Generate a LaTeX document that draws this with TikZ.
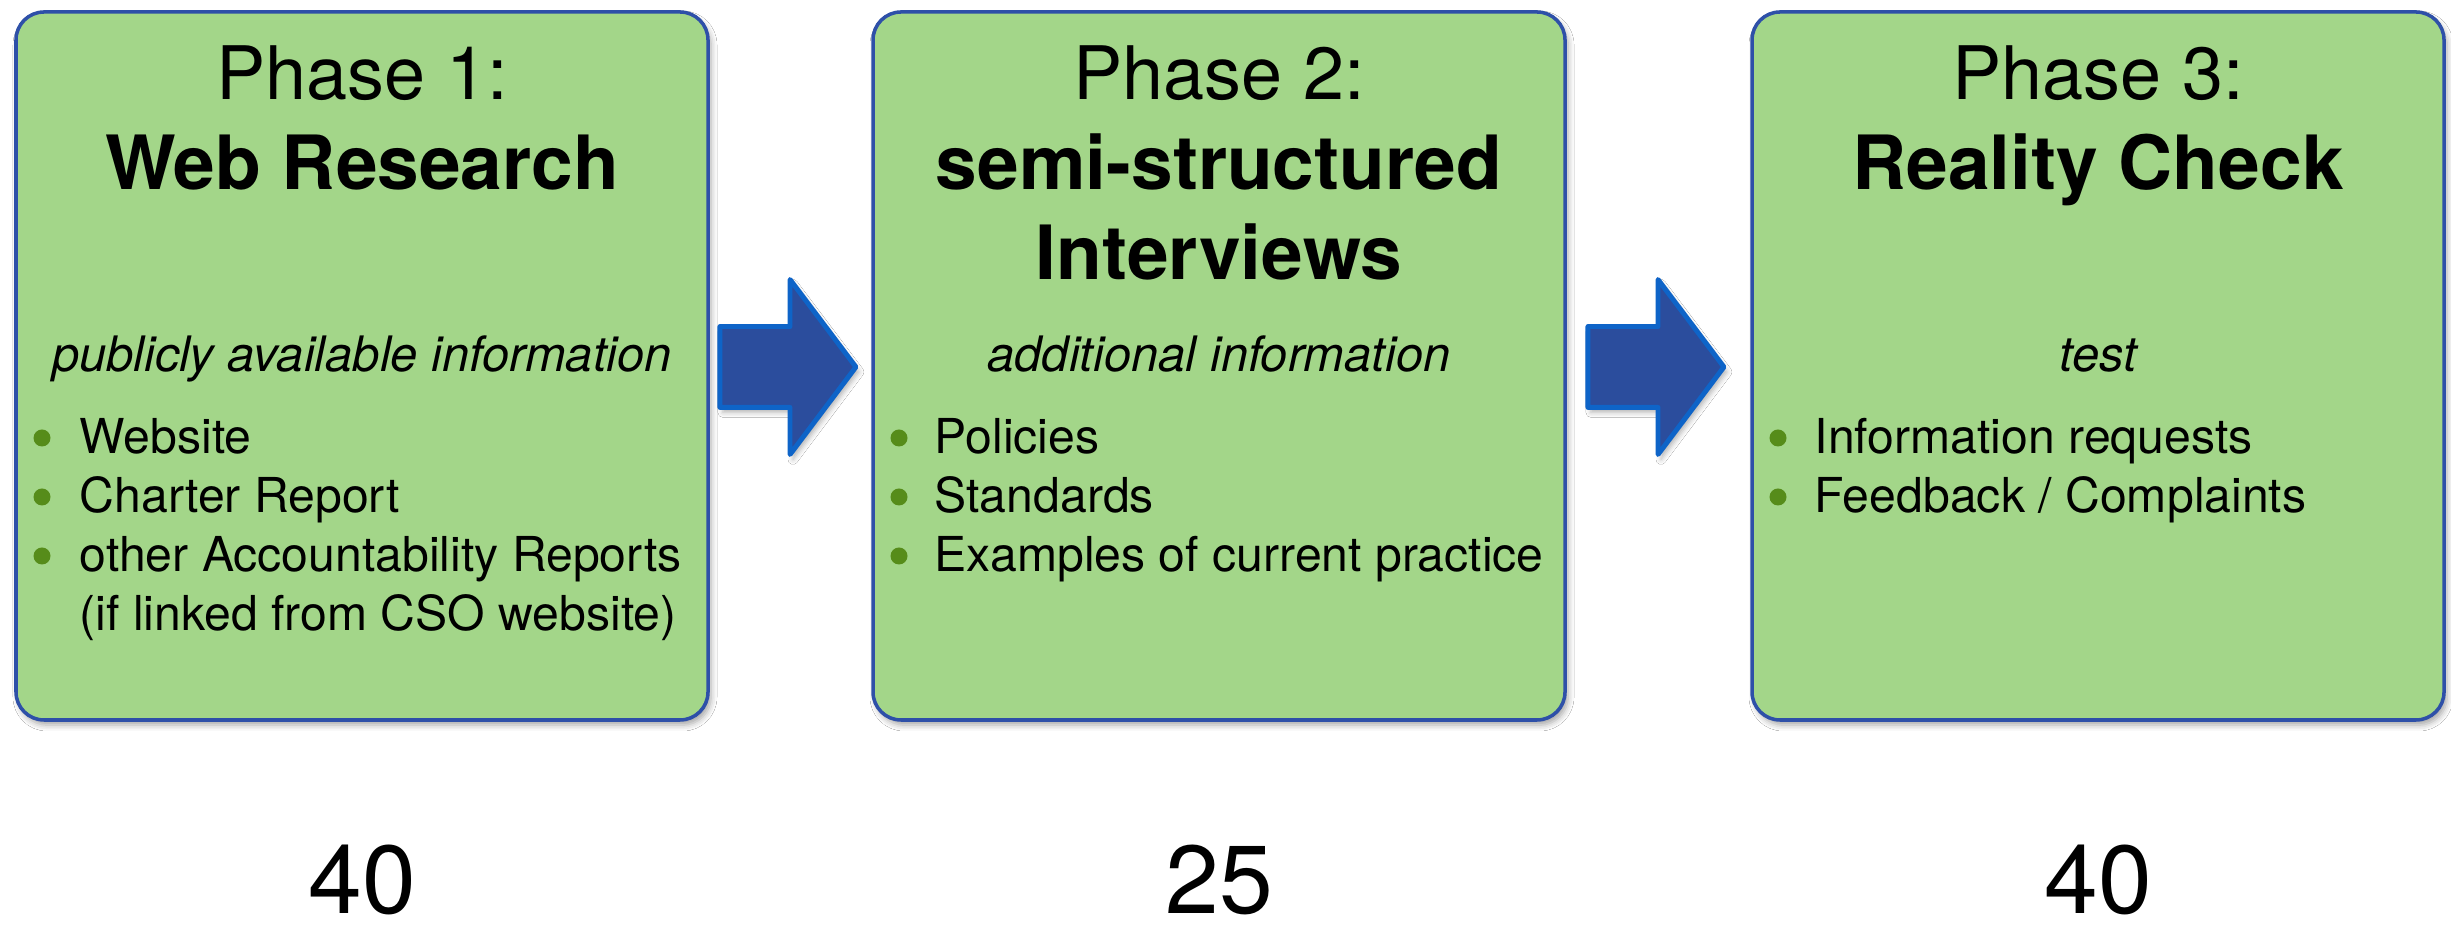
\documentclass[tikz,border=0pt]{standalone}
\usepackage{fontspec}
\setmainfont{TeX Gyre Heros}
\usetikzlibrary{shapes.arrows}
\usetikzlibrary{shadows.blur}

\definecolor{phasegreen}{RGB}{163,214,137}
\definecolor{phaseblue}{RGB}{46,80,168}
\definecolor{arrowfill}{RGB}{43,77,157}
\definecolor{arrowline}{RGB}{14,100,200}
\definecolor{dotgreen}{RGB}{86,140,26}

\tikzset{
  phasebox/.style={rectangle,rounded corners=0.28cm,draw=phaseblue,line width=1pt,fill=phasegreen,
    minimum width=6.92cm,minimum height=7.08cm,inner sep=0pt,
    blur shadow={shadow xshift=0.03cm,shadow yshift=-0.05cm,shadow blur radius=0.06cm,shadow opacity=35}},
  phasehead/.style={anchor=base,inner sep=0pt,font=\fontsize{21}{25}\selectfont},
  phasename/.style={anchor=base,inner sep=0pt,font=\fontsize{21.3}{25}\selectfont\bfseries},
  phasenote/.style={anchor=base,inner sep=0pt,font=\fontsize{13.9}{16}\selectfont\itshape},
  phaseitem/.style={anchor=base west,inner sep=0pt,font=\fontsize{13.7}{16}\selectfont},
  phasedot/.style={circle,fill=dotgreen,inner sep=0pt,minimum size=0.17cm},
  phasecount/.style={anchor=base,inner sep=0pt,font=\fontsize{27.5}{33}\selectfont},
  phasearrow/.style={single arrow,draw=arrowline,fill=arrowfill,line width=1.4pt,line join=round,
    inner xsep=0pt,inner ysep=0.38cm,minimum height=1.36cm,anchor=tip,
    single arrow head extend=0.47cm,single arrow tip angle=106,single arrow head indent=0cm,
    blur shadow={shadow xshift=0.03cm,shadow yshift=-0.05cm,shadow blur radius=0.05cm,shadow opacity=30}}
}

\begin{document}
\begin{tikzpicture}
\useasboundingbox[fill=white] (0,0) rectangle (24.51,9.27);

% the three phase boxes
\node[phasebox] (p1) at (3.62,5.61) {};
\node[phasebox] (p2) at (12.19,5.61) {};
\node[phasebox] (p3) at (20.98,5.61) {};

% arrows between the phases
\node[phasearrow] (a12) at (8.59,5.60) {};
\node[phasearrow] (a23) at (17.27,5.60) {};

% titles
\node[phasehead] (h1) at (3.62,8.27) {Phase 1:};
\node[phasename] (n1) at (3.62,7.37) {Web Research};
\node[phasehead] (h2) at (12.19,8.27) {Phase 2:};
\node[phasename] (n2a) at (12.19,7.37) {semi-structured};
\node[phasename] (n2b) at (12.19,6.47) {Interviews};
\node[phasehead] (h3) at (20.98,8.27) {Phase 3:};
\node[phasename] (n3) at (20.98,7.37) {Reality Check};

\node[phasenote] (s1) at (3.62,5.55) {publicly available information};
\node[phasenote] (s2) at (12.19,5.55) {additional information};
\node[phasenote] (s3) at (20.98,5.55) {test};

% bullet lists
\foreach \txt [count=\i] in {Website,Charter Report,other Accountability Reports} {
  \node[phasedot] (d1\i) at (0.42,{4.89-(\i-1)*0.59}) {};
  \node[phaseitem] (b1\i) at (0.79,{4.73-(\i-1)*0.59}) {\txt};
}
\node[phaseitem] (b14) at (0.79,2.96) {(if linked from CSO website)};

\foreach \txt [count=\i] in {Policies,Standards,Examples of current practice} {
  \node[phasedot] (d2\i) at (8.99,{4.89-(\i-1)*0.59}) {};
  \node[phaseitem] (b2\i) at (9.34,{4.73-(\i-1)*0.59}) {\txt};
}

\foreach \txt [count=\i] in {Information requests,Feedback / Complaints} {
  \node[phasedot] (d3\i) at (17.78,{4.89-(\i-1)*0.59}) {};
  \node[phaseitem] (b3\i) at (18.14,{4.73-(\i-1)*0.59}) {\txt};
}

% counts under each phase
\node[phasecount] (c1) at (3.62,0.13) {40};
\node[phasecount] (c2) at (12.19,0.13) {25};
\node[phasecount] (c3) at (20.98,0.13) {40};

\end{tikzpicture}
\end{document}
